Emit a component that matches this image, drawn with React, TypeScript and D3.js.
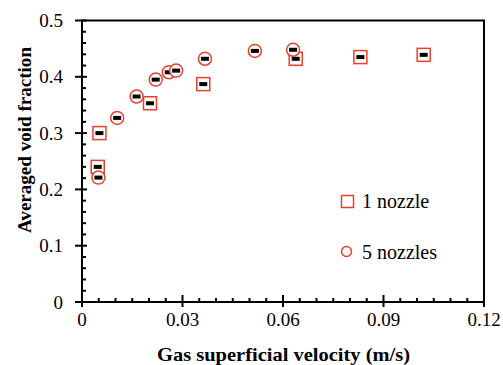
import React from "react";
import * as d3 from "d3";

// Gas superficial velocity (m/s) vs averaged void fraction
const oneNozzleX = [0.0047, 0.0052, 0.0203, 0.0362, 0.0638, 0.0831, 0.102];
const oneNozzleY = [0.240, 0.300, 0.353, 0.387, 0.432, 0.435, 0.439];
const fiveNozzleX = [0.0049, 0.0105, 0.0163, 0.022, 0.0259, 0.0281, 0.0367, 0.0516, 0.063];
const fiveNozzleY = [0.221, 0.327, 0.365, 0.395, 0.408, 0.411, 0.432, 0.446, 0.448];

const xTicks = [0, 0.03, 0.06, 0.09, 0.12];
const xTickLabels = ["0", "0.03", "0.06", "0.09", "0.12"];
const yTicks = [0, 0.1, 0.2, 0.3, 0.4, 0.5];
const yTickLabels = ["0", "0.1", "0.2", "0.3", "0.4", "0.5"];
const legendLabels = ["1 nozzle", "5 nozzles"];

const W = 503;
const H = 365;
const RED = "#e8402c";
const FONT = "'Times New Roman', Tinos, 'Liberation Serif', 'DejaVu Serif', serif";

export default function App() {
  const x = d3.scaleLinear().domain([0, 0.12]).range([82, 484]);
  const y = d3.scaleLinear().domain([0, 0.5]).range([302, 20.5]);

  const xMinor = d3.range(0, 0.1201, 0.005).filter((v) => Math.abs(v / 0.03 - Math.round(v / 0.03)) > 1e-6);
  const yMinor = d3.range(0, 0.5001, 0.02).filter((v) => Math.abs(v / 0.1 - Math.round(v / 0.1)) > 1e-6);

  const ones = oneNozzleX.map((v, i) => [x(v), y(oneNozzleY[i])]);
  const fives = fiveNozzleX.map((v, i) => [x(v), y(fiveNozzleY[i])]);

  const txt = (size: number, bold = false): React.CSSProperties => ({
    fontFamily: FONT,
    fontSize: size,
    fontWeight: bold ? 700 : 400,
  });

  return (
    <svg width={W} height={H} style={{ position: "absolute", left: 0, top: 0, background: "#fff" }}>
      {/* frame */}
      <rect x={x(0)} y={y(0.5)} width={x(0.12) - x(0)} height={y(0) - y(0.5)} fill="none" stroke="#000" strokeWidth={2} />

      {/* y ticks */}
      {yTicks.map((t) => (
        <line key={"ym" + t} x1={x(0) - 7} x2={x(0) + 5} y1={y(t)} y2={y(t)} stroke="#000" strokeWidth={2} />
      ))}
      {yMinor.map((t) => (
        <line key={"yn" + t} x1={x(0)} x2={x(0) + 4} y1={y(t)} y2={y(t)} stroke="#000" strokeWidth={2} />
      ))}
      {/* x ticks */}
      {xTicks.map((t) => (
        <line key={"xm" + t} x1={x(t)} x2={x(t)} y1={y(0) - 7} y2={y(0) + 5} stroke="#000" strokeWidth={2} />
      ))}
      {xMinor.map((t) => (
        <line key={"xn" + t} x1={x(t)} x2={x(t)} y1={y(0) - 4} y2={y(0)} stroke="#000" strokeWidth={2} />
      ))}

      {/* tick labels */}
      {yTicks.map((t, i) => (
        <text key={"yl" + t} x={63} y={y(t)} dy="0.35em" textAnchor="end" style={txt(19)} fill="#000">
          {yTickLabels[i]}
        </text>
      ))}
      {xTicks.map((t, i) => (
        <text key={"xl" + t} x={x(t)} y={326} textAnchor="middle" style={txt(19)} fill="#000">
          {xTickLabels[i]}
        </text>
      ))}

      {/* axis titles */}
      <text x={283.5} y={361} textAnchor="middle" style={txt(19.5, true)} fill="#000"
        textLength={253} lengthAdjust="spacingAndGlyphs">
        Gas superficial velocity (m/s)
      </text>
      <text transform="translate(31,140) rotate(-90)" textAnchor="middle" style={txt(19.5, true)} fill="#000"
        textLength={186} lengthAdjust="spacingAndGlyphs">
        Averaged void fraction
      </text>

      {/* 1 nozzle */}
      {ones.map(([cx, cy], i) => (
        <g key={"s" + i}>
          <rect x={cx - 6.5} y={cy - 6.5} width={13} height={13} fill="#fff" stroke={RED} strokeWidth={1.5} />
          <rect x={cx - 4} y={cy - 2} width={8} height={4} fill="#000" />
        </g>
      ))}
      {/* 5 nozzles */}
      {fives.map(([cx, cy], i) => (
        <g key={"c" + i}>
          <circle cx={cx} cy={cy} r={6.5} fill="#fff" stroke={RED} strokeWidth={1.5} />
          <rect x={cx - 4} y={cy - 2} width={8} height={4} fill="#000" />
        </g>
      ))}

      {/* legend */}
      <rect x={341.5} y={195.5} width={12} height={12} fill="none" stroke={RED} strokeWidth={1.5} />
      <text x={362} y={207.5} style={txt(20)} fill="#000">{legendLabels[0]}</text>
      <circle cx={346.5} cy={251.5} r={5} fill="none" stroke={RED} strokeWidth={1.5} />
      <text x={362} y={258.5} style={txt(20)} fill="#000">{legendLabels[1]}</text>
    </svg>
  );
}
